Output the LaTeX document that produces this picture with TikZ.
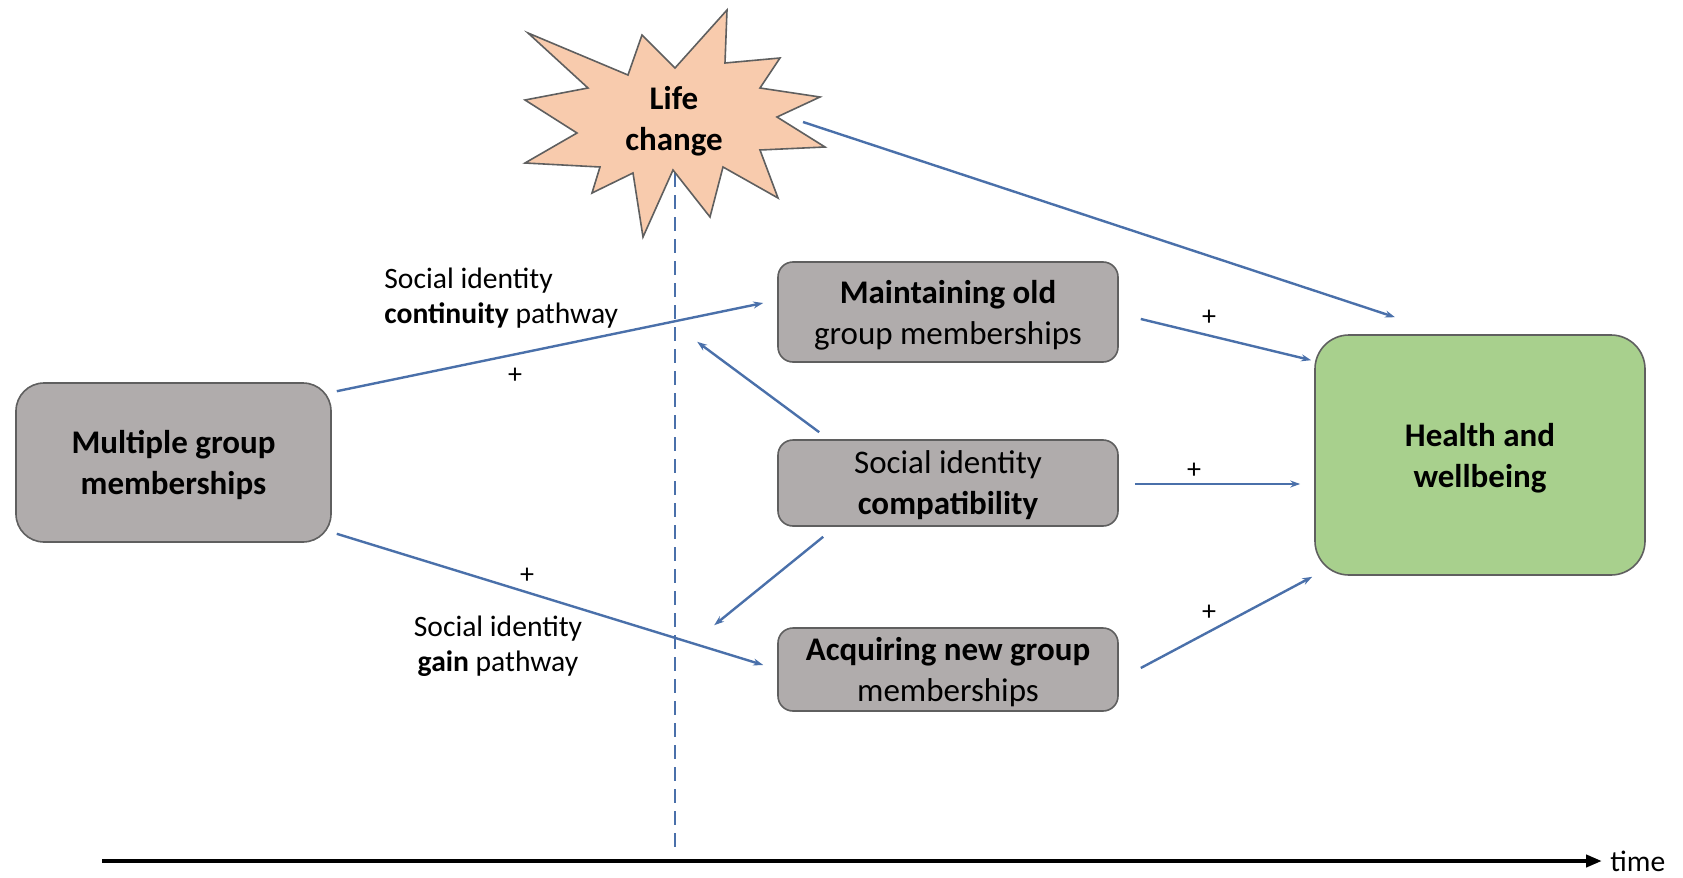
\documentclass[tikz,border=0pt]{standalone}
\usepackage{fontspec}
\setmainfont{Carlito}
\usetikzlibrary{arrows.meta,calc}
\definecolor{boxgray}{RGB}{176,172,172}
\definecolor{edgegray}{RGB}{95,95,95}
\definecolor{wellgreen}{RGB}{168,208,141}
\definecolor{starpeach}{RGB}{248,203,173}
\definecolor{linkblue}{RGB}{74,112,170}
\begin{document}
\begin{tikzpicture}[x=0.5pt,y=-0.5pt,
  every node/.style={font=\fontsize{16.5}{20.5}\selectfont,align=center},
  box/.style={draw=edgegray,line width=0.8pt,fill=boxgray,rounded corners=7.5pt,minimum width=170pt,text depth=0pt},
  link/.style={draw=linkblue,line width=1.2pt,-{Stealth[length=5pt,width=3.5pt]}},
  lbl/.style={font=\fontsize{14.8}{17.5}\selectfont},
  plus/.style={font=\fontsize{14}{14}\selectfont,inner sep=0pt}]
\useasboundingbox (0,0) rectangle (1683,878);
% time axis and life change marker
\draw[line width=2pt,-{Triangle[length=8pt,width=6pt]}] (102,861) -- (1602,861) coordinate (tend);
\node[lbl,anchor=west,inner sep=0pt] (time) at (1610,861) {time};
\draw[linkblue,line width=0.8pt,dash pattern=on 7pt off 4pt] (675,173) -- (675,853);
\filldraw[fill=starpeach,draw=edgegray,line width=0.8pt,line join=miter]
  (528,33) -- (628,75) -- (642,35) -- (675,68) -- (727,10) -- (725,63) -- (780,58) -- (760,88)
  -- (820,97) -- (777,117) -- (825,147) -- (760,150) -- (778,198) -- (723,167) -- (710,217)
  -- (673,170) -- (643,237) -- (633,173) -- (592,193) -- (600,167) -- (525,163) -- (577,133)
  -- (525,100) -- (588,88) -- cycle;
\node[font=\bfseries\fontsize{16.5}{20.5}\selectfont,text depth=0pt] (life) at (674,118) {Life\\change};
\coordinate (lifetip) at (803,122);
% boxes
\node[box,rounded corners=14pt,minimum width=157.5pt,minimum height=79.5pt,font=\bfseries\fontsize{16.5}{20.5}\selectfont] (multi) at (173.5,462.5) {Multiple group\\memberships};
\node[box,minimum height=50pt] (maint) at (948,312) {\textbf{Maintaining old}\\group memberships};
\node[box,minimum height=43pt] (compat) at (948,483) {Social identity\\\textbf{compatibility}};
\node[box,minimum height=41.5pt] (acq) at (948,669.5) {\textbf{Acquiring new group}\\memberships};
\node[box,fill=wellgreen,rounded corners=17pt,minimum width=165pt,minimum height=120pt,font=\bfseries\fontsize{16.5}{20.5}\selectfont] (health) at (1480,455) {Health and\\wellbeing};
% pathways
\draw[link] ($(multi.north east)+(5,9)$) -- ($(maint.west)+(-14,-9)$);
\draw[link] ($(multi.south east)+(5,-9)$) -- ($(acq.west)+(-14,-4.5)$);
\draw[link] (lifetip) -- ($(health.north)+(-85,-17)$);
\draw[link] ($(maint.east)+(22,7)$) -- ($(health.north west)+(-3,26)$);
\draw[link] ($(compat.east)+(16,1)$) -- ($(health.west)+(-14,29)$);
\draw[link] ($(acq.east)+(22,-1.5)$) -- ($(health.south west)+(-2,1)$);
\draw[link] ($(compat.north west)+(42,-7)$) -- ($(maint.south west)+(-80,-21)$);
\draw[link] ($(compat.south west)+(46,10)$) -- ($(acq.north west)+(-63,-2)$);
% labels
\node[lbl,align=left,anchor=west,inner sep=0pt] (contlbl) at (384,298) {Social identity\\\textbf{continuity} pathway};
\node[lbl,inner sep=0pt] (gainlbl) at (498,646) {Social identity\\\textbf{gain} pathway};
\node[plus] (p1) at (515,376) {+};
\node[plus] (p2) at (527,576) {+};
\node[plus] (p3) at (1209,318) {+};
\node[plus] (p4) at (1194,471) {+};
\node[plus] (p5) at (1209,613) {+};
\end{tikzpicture}
\end{document}
